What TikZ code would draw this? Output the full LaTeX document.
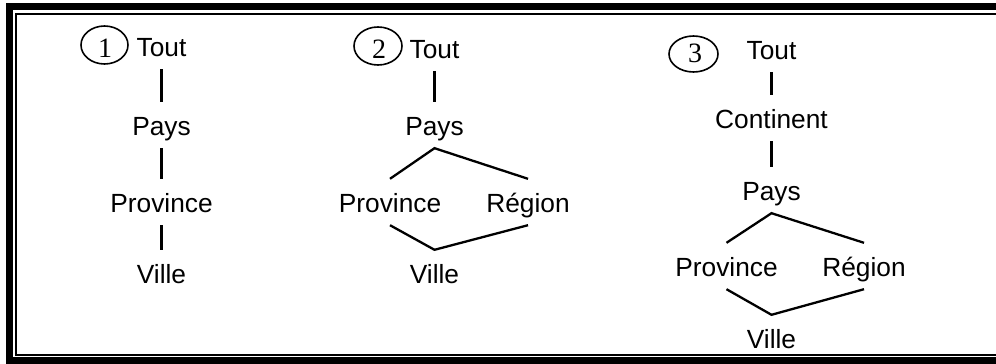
\documentclass[tikz,border=0pt]{standalone}
\usepackage{fontspec}
\setmainfont{Liberation Sans}
\newfontfamily\numfont{Liberation Serif}
\usetikzlibrary{shapes.geometric}
\begin{document}
\begin{tikzpicture}[x=1pt,y=-1pt,
  lbl/.style={anchor=base, inner xsep=0pt, inner ysep=8pt, text height=25pt, text depth=5pt,
    font=\fontsize{26.3}{30}\selectfont},
  numcirc/.style={draw, ellipse, line width=1.6pt, inner sep=0pt},
  numtxt/.style={anchor=base, inner sep=0pt, font=\numfont\fontsize{28}{30}\selectfont},
  edge/.style={line width=2.3pt}]
\useasboundingbox (0,0) rectangle (996,364);
% double frame, open on the right
\draw[line width=7pt, line join=miter] (997,6.5) -- (9.5,6.5) -- (9.5,360.5) -- (997,360.5);
\draw[line width=2pt, line join=miter] (997,13.5) -- (16,13.5) -- (16,355) -- (997,355);

% hierarchy 1
\node[numcirc, minimum width=47pt, minimum height=38pt] (c1) at (104.5,45) {};
\node[numtxt] (n1) at (105,57) {1};
\node[lbl] (tout1) at (161.5,56) {Tout};
\node[lbl] (pays1) at (161.5,135) {Pays};
\node[lbl] (prov1) at (161.5,212) {Province};
\node[lbl] (ville1) at (161.5,283) {Ville};
\draw[edge] (tout1.south) -- (pays1.north);
\draw[edge] (pays1.south) -- (prov1.north);
\draw[edge] (prov1.south) -- (ville1.north);

% hierarchy 2
\node[numcirc, minimum width=48pt, minimum height=38pt] (c2) at (378,46) {};
\node[numtxt] (n2) at (379,58) {2};
\node[lbl] (tout2) at (434.5,58) {Tout};
\node[lbl] (pays2) at (434.5,135) {Pays};
\node[lbl] (prov2) at (390,212) {Province};
\node[lbl] (reg2) at (528,212) {Région};
\node[lbl] (ville2) at (434.5,283) {Ville};
\draw[edge] (tout2.south) -- (pays2.north);
\draw[edge] (prov2.north) -- (pays2.south) -- (reg2.north);
\draw[edge] (prov2.south) -- (ville2.north) -- (reg2.south);

% hierarchy 3
\node[numcirc, minimum width=49pt, minimum height=36pt] (c3) at (693.5,54) {};
\node[numtxt] (n3) at (695,62) {3};
\node[lbl] (tout3) at (771.5,59) {Tout};
\node[lbl] (cont3) at (771.5,128) {Continent};
\node[lbl] (pays3) at (771.5,200) {Pays};
\node[lbl] (prov3) at (726.5,276) {Province};
\node[lbl] (reg3) at (864,276) {Région};
\node[lbl] (ville3) at (771.5,348) {Ville};
\draw[edge] (tout3.south) -- (cont3.north);
\draw[edge] (cont3.south) -- (pays3.north);
\draw[edge] (prov3.north) -- (pays3.south) -- (reg3.north);
\draw[edge] (prov3.south) -- (ville3.north) -- (reg3.south);
\end{tikzpicture}
\end{document}
